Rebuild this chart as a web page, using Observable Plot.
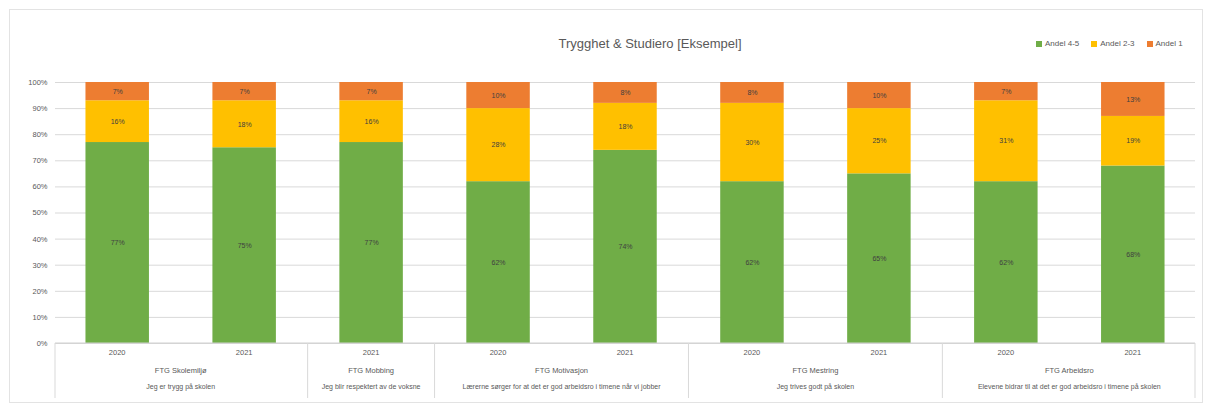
<!DOCTYPE html>
<html>
<head>
<meta charset="utf-8">
<script src="https://cdn.jsdelivr.net/npm/d3@7"></script>
<script src="https://cdn.jsdelivr.net/npm/@observablehq/plot@0.6"></script>
<style>
  html, body { margin: 0; padding: 0; background: #fff; }
  #wrap { position: relative; width: 1214px; height: 412px; font-family: "Liberation Sans", Arial, sans-serif; }
  #frame { position: absolute; left: 9px; top: 9px; width: 1194px; height: 394px; border: 1px solid #e3e3e3; box-sizing: border-box; pointer-events: none; }
  #title { position: absolute; left: 0; width: 1300px; top: 36px; text-align: center; font-size: 13px; color: #595959; }
  #legend { position: absolute; left: 1036px; top: 39px; font-size: 8px; color: #595959; display: flex; gap: 12px; white-space: nowrap; }
  #legend span.sw { display: inline-block; width: 6px; height: 6px; margin-right: 3px; vertical-align: -0.5px; }
  #chart { position: absolute; left: 0; top: 0; }
</style>
</head>
<body>
<div id="wrap">
  <div id="chart"></div>
  <div id="frame"></div>
  <div id="title">Trygghet &amp; Studiero [Eksempel]</div>
  <div id="legend"></div>
</div>
<script>
// ---- data ----
const years = ["2020", "2021", "2021", "2020", "2021", "2020", "2021", "2020", "2021"];
const barGroup = [0, 0, 1, 2, 2, 3, 3, 4, 4];
const groupNames = ["FTG Skolemiljø", "FTG Mobbing", "FTG Motivasjon", "FTG Mestring", "FTG Arbeidsro"];
const groupDescs = [
  "Jeg er trygg på skolen",
  "Jeg blir respektert av de voksne",
  "Lærerne sørger for at det er god arbeidsro i timene når vi jobber",
  "Jeg trives godt på skolen",
  "Elevene bidrar til at det er god arbeidsro i timene på skolen"
];
const seriesNames = ["Andel 4-5", "Andel 2-3", "Andel 1"];
const seriesColors = ["#70AD47", "#FFC000", "#ED7D31"];
const andelHigh = [77, 75, 77, 62, 74, 62, 65, 62, 68];
const andelMid  = [16, 18, 16, 28, 18, 30, 25, 31, 19];
const andelLow  = [7, 7, 7, 10, 8, 8, 10, 7, 13];
const yTicks = [0, 10, 20, 30, 40, 50, 60, 70, 80, 90, 100];

// ---- table ----
const seriesValues = [andelHigh, andelMid, andelLow];
const rows = [];
years.forEach((yr, i) => {
  seriesNames.forEach((s, k) => rows.push({bar: i, series: s, value: seriesValues[k][i]}));
});

// legend
const legend = document.getElementById("legend");
seriesNames.forEach((s, k) => {
  const el = document.createElement("div");
  el.innerHTML = `<span class="sw" style="background:${seriesColors[k]}"></span>${s}`;
  legend.appendChild(el);
});

function hierAxis(index, scales, values, dims) {
  const x = scales.x;
  const bw = x.bandwidth();
  const step = x.step();
  const y0 = dims.height - dims.marginBottom;
  const left = dims.marginLeft, right = dims.width - dims.marginRight;
  const g = d3.create("svg:g").attr("font-family", "Liberation Sans, Arial, sans-serif").attr("fill", "#595959");
  g.append("line").attr("x1", left).attr("x2", right).attr("y1", y0).attr("y2", y0).attr("stroke", "#d0d0d0");
  const bounds = [left];
  for (let i = 1; i < years.length; i++) if (barGroup[i] !== barGroup[i - 1]) bounds.push(x(i) - (step - bw) / 2);
  bounds.push(right);
  bounds.forEach(b => g.append("line").attr("x1", b).attr("x2", b).attr("y1", y0).attr("y2", y0 + 55).attr("stroke", "#d9d9d9"));
  years.forEach((yr, i) => g.append("text").attr("x", x(i) + bw / 2).attr("y", y0 + 12).attr("text-anchor", "middle").attr("font-size", 7.5).text(yr));
  groupNames.forEach((name, gi) => {
    const idx = barGroup.map((v, i) => v === gi ? i : -1).filter(i => i >= 0);
    const cx = (x(idx[0]) + x(idx[idx.length - 1]) + bw) / 2;
    g.append("text").attr("x", cx).attr("y", y0 + 30).attr("text-anchor", "middle").attr("font-size", 7.5).text(name);
    g.append("text").attr("x", cx).attr("y", y0 + 46).attr("text-anchor", "middle").attr("font-size", 7).text(groupDescs[gi]);
  });
  return g.node();
}

const plot = Plot.plot({
  width: 1214,
  height: 412,
  marginLeft: 55,
  marginRight: 19,
  marginTop: 82,
  marginBottom: 69,
  style: {fontFamily: "Liberation Sans, Arial, sans-serif", background: "transparent"},
  x: {type: "band", domain: d3.range(years.length), paddingInner: 0.5, paddingOuter: 0.24, round: false, axis: null},
  y: {domain: [0, 100]},
  color: {domain: seriesNames, range: seriesColors},
  marks: [
    Plot.gridY(yTicks, {stroke: "#d9d9d9", strokeOpacity: 1}),
    Plot.axisY(yTicks, {tickFormat: d => d + "%", tickSize: 0, tickPadding: 8, fontSize: 7.5, fill: "#595959", label: null}),
    Plot.barY(rows, Plot.stackY({x: "bar", y: "value", fill: "series", order: seriesNames})),
    Plot.text(rows, Plot.stackY({x: "bar", y: "value", z: "series", order: seriesNames, text: d => d.value + "%", fontSize: 7, fill: "#404040"})),
    hierAxis
  ]
});
document.getElementById("chart").appendChild(plot);
</script>
</body>
</html>
